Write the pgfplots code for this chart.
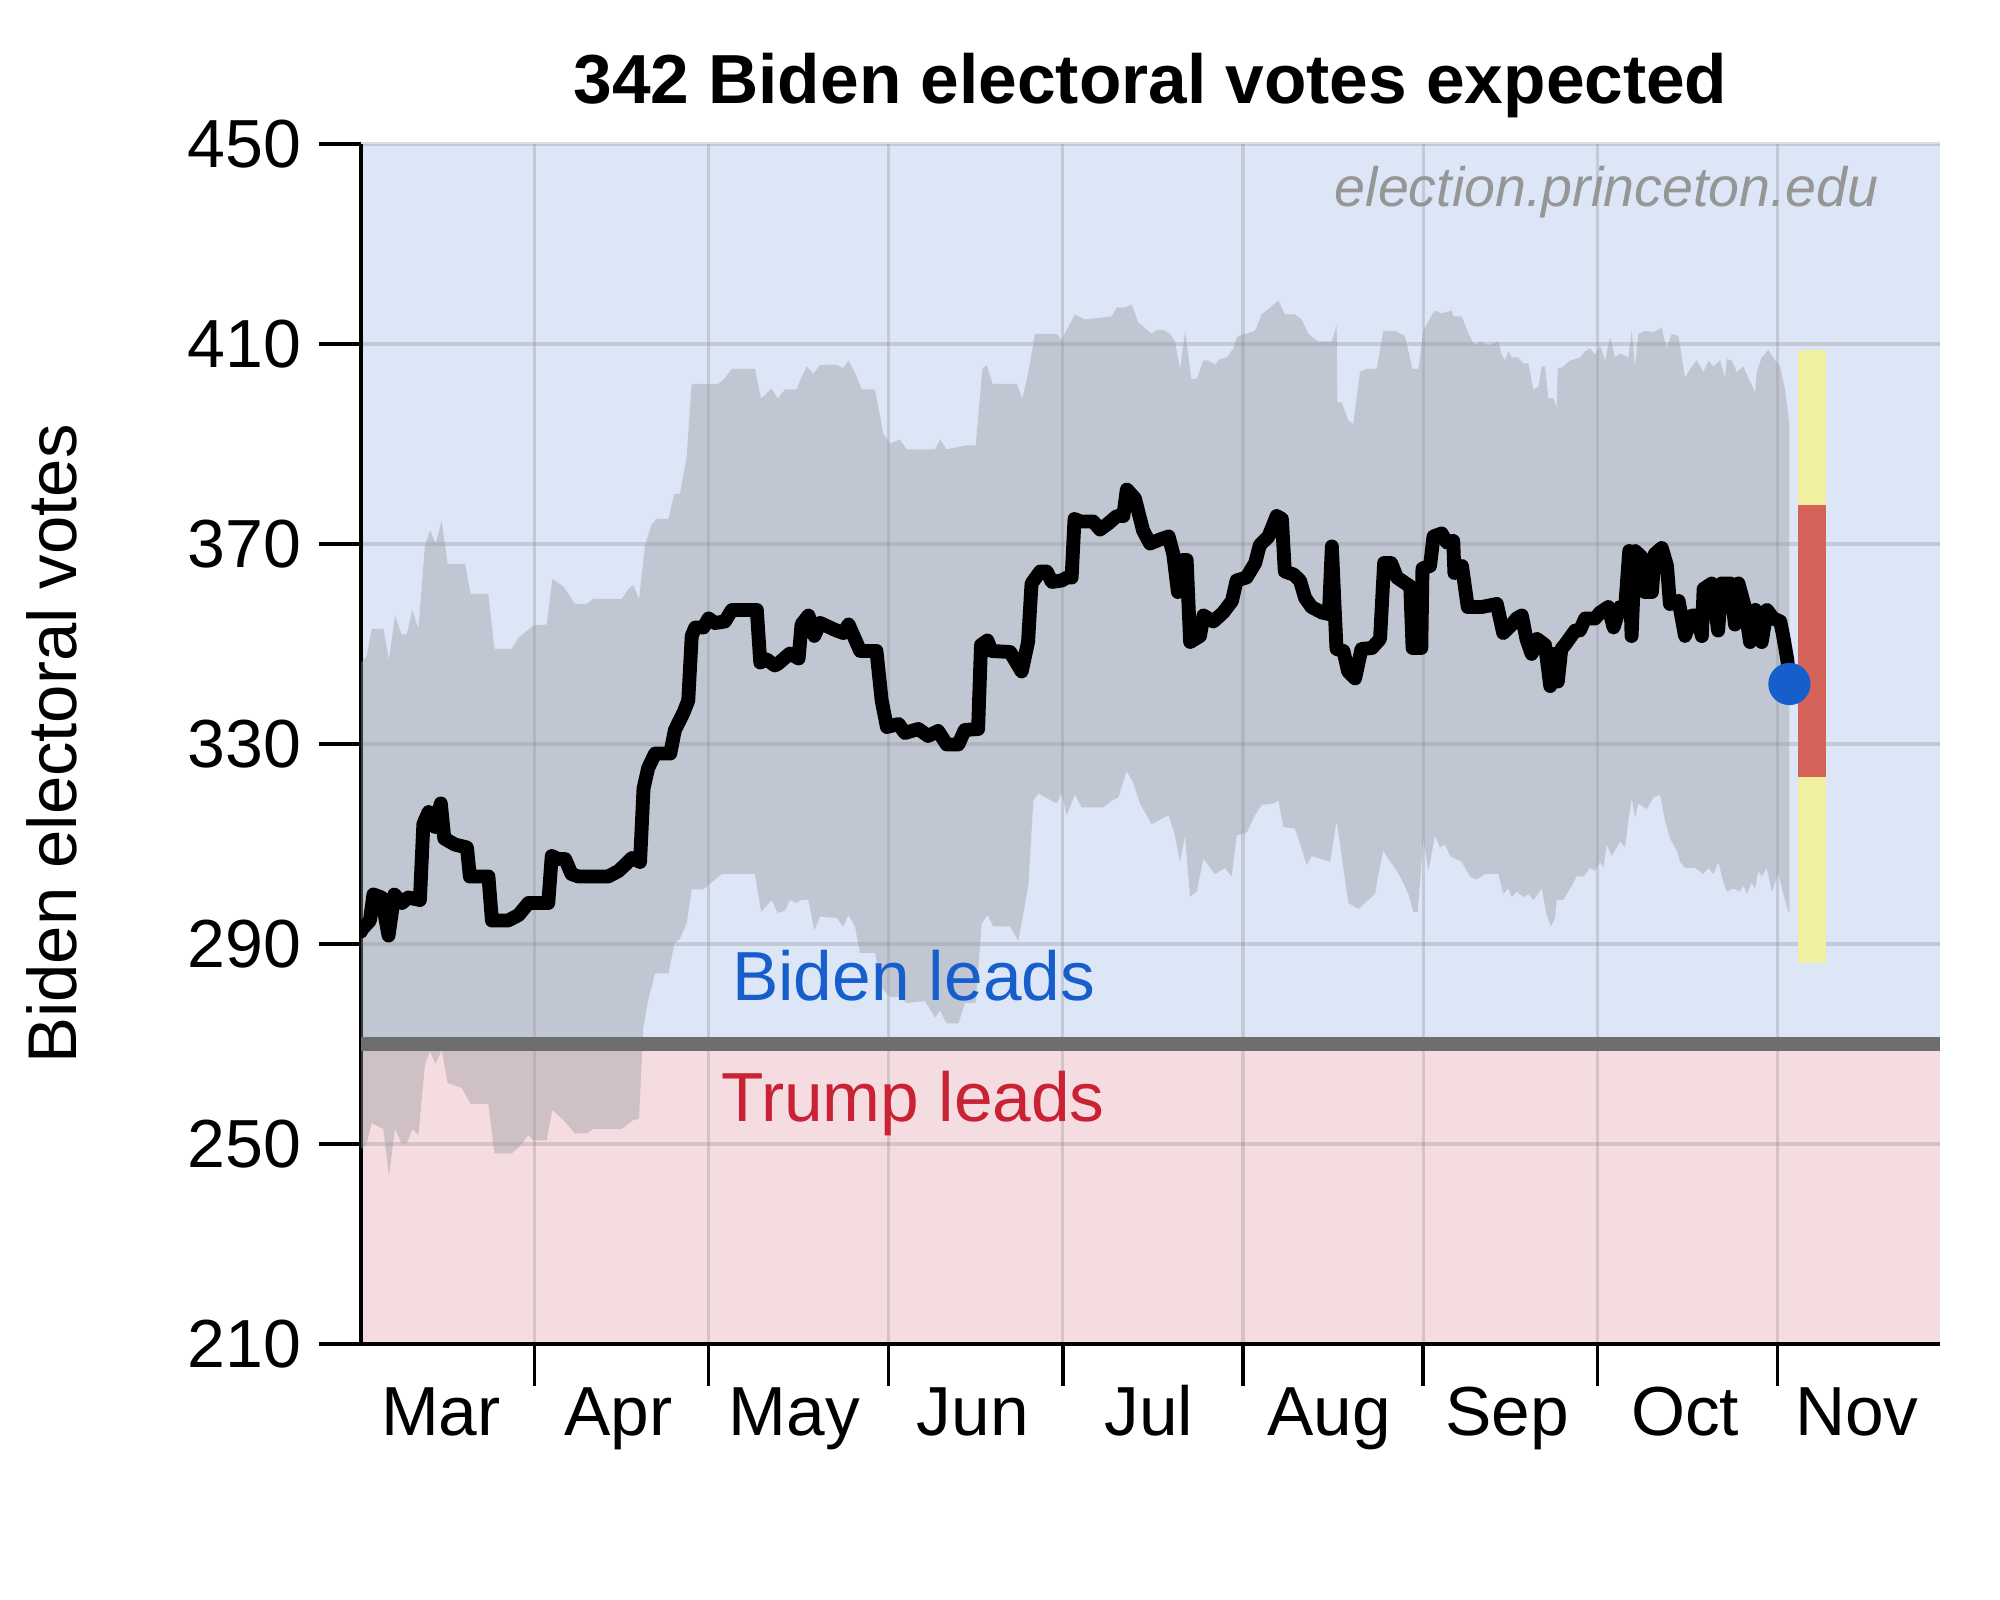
\documentclass[border=0pt]{standalone}
\usepackage{pgfplots}
\pgfplotsset{compat=1.18}
\usepgfplotslibrary{fillbetween}
\usepackage{fontspec}
\setmainfont{Liberation Sans}
\definecolor{bluebg}{RGB}{220,230,246}
\definecolor{pinkbg}{RGB}{245,220,224}
\definecolor{bandcol}{RGB}{152,150,158}
\definecolor{line270}{RGB}{110,110,110}
\definecolor{bidenblue}{RGB}{22,94,204}
\definecolor{trumpred}{RGB}{200,34,52}
\definecolor{baryellow}{RGB}{240,240,160}
\definecolor{barred}{RGB}{212,98,88}
\definecolor{wmgray}{RGB}{150,150,150}
\begin{document}
\begin{tikzpicture}
\begin{axis}[
  set layers,
  scale only axis, width=568.44bp, height=432bp,
  xmin=62.16, xmax=334, ymin=210, ymax=450,
  axis x line*=bottom, axis y line*=left,
  axis line style={line width=1.26bp, black, -},
  tick align=outside, tick pos=left,
  major tick length=15.1bp,
  major tick style={line width=1.26bp, black},
  xtick={92,122,153,183,214,245,275,306},
  xticklabels={},
  ytick={210,250,290,330,370,410,450},
  extra x ticks={75.9,106.5,136.8,167.5,197.8,228.8,259.5,290.1,319.7},
  extra x tick labels={Mar,Apr,May,Jun,Jul,Aug,Sep,Oct,Nov},
  extra x tick style={grid=none, major tick length=0pt, tick style={draw=none},
     tick label style={anchor=base, inner sep=0pt, yshift=-32.76bp, font=\fontsize{25bp}{30bp}\selectfont}},
  /pgf/number format/assume math mode=true,
  tick label style={font=\fontsize{24.5bp}{30bp}\selectfont},
  yticklabel style={anchor=east, inner sep=0pt, xshift=-6.3bp},
  grid=major,
  grid style={line width=1.1bp, gray, opacity=0.27},
  title={\bfseries 342 Biden electoral votes expected},
  title style={font=\fontsize{25bp}{30bp}\selectfont, at={(axis description cs:0.5,1)}, anchor=base, yshift=8.74bp},
  ylabel={Biden electoral votes},
  ylabel style={font=\fontsize{24.8bp}{30bp}\selectfont, at={(axis description cs:-0.1957,0.5)}, anchor=center},
]
% backgrounds
\addplot[on layer=axis background, fill=bluebg, draw=none] coordinates {(62.16,270) (334,270) (334,450) (62.16,450)} -- cycle;
\addplot[on layer=axis background, fill=pinkbg, draw=none] coordinates {(62.16,210) (334,210) (334,270) (62.16,270)} -- cycle;
% band
\addplot[name path=up, draw=none] coordinates {
(62.16,346.3) (63.14,347.5) (64.00,353.0) (66.01,353.0) (66.98,346.9) (68.02,355.7) (69.16,351.9) (70.03,351.9) (71.00,356.8) (72.03,353.0) (73.18,369.8) (74.04,372.7) (75.02,370.1) (76.05,374.7) (77.08,366.0) (80.07,366.0) (81.04,360.0) (84.09,360.0) (85.12,349.0) (88.10,349.0) (89.25,351.2) (91.83,353.7) (94.13,353.9) (95.10,363.0) (97.00,361.5) (99.01,358.0) (101.02,358.0) (102.16,359.0) (107.04,359.0) (108.19,361.0) (109.05,361.8) (110.03,359.0) (111.06,369.8) (112.21,373.9) (113.07,375.0) (115.08,375.0) (116.11,380.0) (117.08,380.0) (118.23,387.4) (119.09,402.0) (123.68,402.0) (124.83,403.2) (125.98,405.0) (130.00,405.0) (131.03,399.1) (132.87,401.1) (133.90,399.1) (135.15,400.9) (137.16,400.9) (138.02,403.4) (138.88,405.5) (140.03,404.0) (141.18,405.8) (144.05,405.8) (145.20,405.2) (146.06,406.7) (147.09,404.6) (148.35,400.9) (150.65,400.9) (152.08,392.1) (153.23,390.1) (154.95,390.9) (156.10,388.9) (160.98,388.9) (161.84,390.9) (162.99,388.9) (166.14,389.7) (167.98,389.7) (169.13,405.0) (169.87,405.8) (170.91,402.0) (175.04,402.0) (176.02,399.1) (177.05,404.4) (178.19,412.0) (181.93,412.0) (182.79,410.8) (183.65,412.8) (185.08,415.9) (186.80,414.9) (191.39,415.5) (192.25,417.3) (193.69,417.3) (194.84,417.9) (195.98,414.3) (197.13,413.2) (198.28,412.0) (199.14,412.8) (200.29,412.8) (201.44,412.0) (202.30,410.5) (203.16,405.0) (204.05,412.6) (205.10,403.0) (206.03,403.0) (207.18,406.7) (208.04,406.7) (209.19,405.9) (210.05,407.0) (211.20,407.3) (212.34,409.1) (212.92,411.4) (214.35,412.0) (216.07,412.6) (217.22,415.9) (220.09,418.7) (221.24,415.9) (222.96,415.9) (224.11,414.9) (225.26,412.0) (226.98,410.5) (229.27,410.5) (230.13,413.8) (230.25,398.3) (230.99,398.3) (232.14,394.7) (233.00,394.0) (234.15,404.4) (235.30,405.0) (237.02,405.0) (238.17,412.6) (240.18,412.6) (241.90,411.6) (243.16,405.0) (244.19,405.0) (245.05,412.6) (246.37,415.5) (247.06,416.7) (248.21,416.1) (249.93,416.7) (250.22,415.5) (251.66,415.5) (253.09,411.4) (253.95,409.7) (254.81,410.5) (256.25,409.7) (257.97,410.5) (258.54,407.9) (259.12,406.7) (259.69,408.5) (260.26,407.3) (261.41,407.3) (262.27,406.1) (263.13,406.1) (263.99,400.9) (264.85,401.4) (265.43,405.5) (266.00,405.5) (266.58,399.1) (267.44,399.1) (268.01,397.3) (268.18,405.0) (269.16,405.5) (270.31,406.7) (272.03,407.3) (272.89,408.5) (273.75,409.1) (274.61,407.9) (275.47,409.7) (276.34,406.7) (277.20,411.4) (278.06,407.3) (278.92,408.1) (280.35,407.3) (280.93,412.6) (281.50,405.5) (282.07,412.0) (283.22,412.6) (284.66,412.4) (286.09,413.2) (286.95,409.1) (287.81,412.0) (288.96,411.6) (290.11,403.2) (290.97,405.0) (292.12,406.7) (293.27,404.4) (294.13,406.7) (294.99,405.5) (296.13,406.7) (296.99,403.2) (297.28,407.0) (298.14,406.7) (299.00,404.4) (300.15,405.5) (301.01,403.2) (302.16,400.3) (302.45,404.4) (303.31,407.3) (304.46,408.8) (305.60,406.7) (306.47,405.5) (307.33,400.9) (308.07,393.8)
};
\addplot[name path=lo, draw=none] coordinates {
(62.16,248.9) (63.14,250.1) (64.00,254.2) (66.01,253.0) (66.98,243.6) (68.02,253.0) (69.16,250.1) (70.03,250.1) (71.00,253.0) (72.03,251.8) (73.18,265.9) (74.04,268.5) (75.02,266.1) (76.05,268.8) (77.08,262.2) (79.49,261.2) (81.04,258.0) (84.09,258.0) (85.12,248.1) (88.10,248.1) (89.25,249.2) (90.97,251.8) (91.83,250.7) (94.13,250.7) (95.10,256.8) (97.00,254.8) (99.01,252.1) (101.02,252.1) (102.16,253.0) (107.04,253.0) (109.05,254.8) (110.03,255.0) (110.77,273.5) (111.63,278.8) (112.78,284.1) (115.08,284.1) (116.11,290.0) (117.08,291.1) (118.23,294.1) (119.09,300.9) (121.10,300.9) (121.85,301.7) (124.26,304.0) (130.00,304.0) (131.03,296.4) (132.87,298.8) (133.90,296.2) (135.15,296.7) (136.01,298.8) (137.16,298.2) (138.02,298.8) (139.17,298.8) (140.20,292.7) (141.18,295.5) (144.05,295.2) (145.20,293.5) (146.06,295.8) (147.21,293.5) (148.07,288.2) (150.65,288.2) (151.80,281.2) (153.23,279.4) (154.95,279.4) (156.10,278.2) (159.26,278.6) (160.98,275.3) (161.84,276.7) (162.99,274.1) (165.00,274.1) (166.14,278.2) (167.98,278.2) (169.01,294.1) (170.05,295.8) (171.02,293.5) (173.89,293.5) (175.33,290.6) (177.05,301.7) (177.91,318.7) (178.77,320.1) (181.93,318.1) (182.79,320.1) (183.65,315.8) (185.08,319.9) (186.23,317.3) (189.96,317.3) (191.39,318.7) (192.54,319.3) (193.98,324.6) (195.13,322.2) (196.27,318.1) (198.28,314.0) (200.29,315.2) (201.15,315.8) (202.30,311.7) (203.16,306.4) (204.02,311.7) (204.88,299.4) (206.03,300.5) (207.18,307.0) (209.19,304.0) (210.91,305.2) (212.06,303.5) (212.92,311.7) (214.64,312.3) (216.07,315.8) (217.22,317.8) (219.23,318.1) (220.09,318.7) (220.95,313.4) (222.96,313.1) (224.97,305.8) (225.83,307.6) (228.99,306.4) (230.13,314.6) (230.99,307.6) (232.14,298.2) (233.86,297.0) (236.73,300.0) (237.31,304.0) (238.17,308.7) (239.03,307.0) (240.18,305.2) (241.32,302.9) (242.47,300.0) (243.33,296.4) (244.08,296.4) (245.05,311.1) (245.92,304.6) (247.06,311.7) (247.92,309.3) (248.78,309.9) (249.65,307.6) (251.66,306.4) (253.09,303.5) (254.24,302.9) (255.67,304.0) (257.97,304.0) (258.83,300.0) (259.69,301.1) (260.26,299.4) (261.13,300.5) (262.27,299.4) (263.13,300.0) (263.99,298.8) (265.43,301.1) (266.29,295.8) (267.03,293.5) (267.72,295.2) (268.01,298.8) (269.16,298.8) (270.31,301.1) (271.46,303.5) (272.61,303.5) (273.75,305.2) (274.61,304.6) (275.47,306.4) (276.05,305.2) (276.62,309.9) (277.48,307.6) (278.34,309.3) (278.92,310.5) (279.78,309.3) (280.35,314.6) (280.93,319.3) (281.50,315.2) (282.07,318.1) (283.51,317.0) (284.66,319.3) (285.81,319.9) (286.67,314.6) (287.53,311.1) (288.68,308.7) (289.25,306.4) (290.11,305.2) (291.83,305.2) (293.27,304.0) (294.13,305.2) (294.99,304.0) (295.85,306.4) (296.71,302.3) (297.28,300.5) (298.43,301.1) (299.58,300.5) (300.15,301.7) (300.73,300.0) (301.59,302.3) (302.16,301.1) (302.74,304.6) (303.31,303.5) (304.17,305.2) (305.03,300.5) (306.18,304.0) (307.04,300.0) (307.90,296.4) (308.07,296.4)
};
\addplot[fill=bandcol, fill opacity=0.4, draw=none] fill between[of=up and lo];
% 270 line
\addplot[line width=4.86bp, color=line270] coordinates {(62.16,270) (334,270)};
% forecast bar
\addplot[line width=9.97bp, color=baryellow] coordinates {(312,286.2) (312,408.8)};
\addplot[line width=9.97bp, color=barred] coordinates {(312,323.3) (312,377.7)};
% median
\addplot[black, line width=5bp, line join=round, line cap=round] coordinates {
(62.16,292.5) (62.3,292.9) (63.7,294.7) (64.3,299.9) (65.7,299.3) (66.9,291.7) (67.9,299.9) (69.2,298.2) (70.3,299.3) (72.3,298.8) (72.9,314.0) (73.8,316.4) (74.9,313.4) (75.9,318.1) (76.5,311.1) (78.3,309.9) (80.4,309.3) (80.9,303.5) (84.1,303.5) (84.7,294.7) (87.5,294.7) (89.3,295.8) (91.0,298.2) (94.4,298.2) (95.0,307.6) (96.1,307.0) (97.3,307.0) (98.4,304.0) (99.6,303.5) (104.7,303.5) (106.5,304.6) (107.6,305.8) (108.8,307.2) (110.2,306.4) (110.8,321.1) (111.6,325.2) (112.8,328.1) (115.4,328.1) (116.2,332.8) (117.7,336.3) (118.5,338.7) (119.1,351.6) (119.7,353.3) (121.1,353.3) (122.0,355.1) (123.1,354.2) (124.8,354.5) (126.0,356.8) (130.3,356.8) (130.9,346.3) (132.0,346.9) (133.4,345.7) (134.0,346.1) (136.0,348.1) (137.5,347.1) (138.0,353.9) (139.2,355.7) (140.2,351.6) (141.2,354.2) (144.0,352.7) (145.2,352.2) (146.1,353.9) (147.2,351.0) (148.1,348.6) (150.9,348.6) (151.8,338.7) (152.7,333.4) (154.7,334.0) (155.8,332.2) (158.1,333.0) (159.8,331.6) (161.5,332.6) (163.0,329.9) (165.0,329.9) (166.1,332.8) (168.4,333.0) (168.9,349.8) (170.0,350.7) (170.7,348.6) (173.9,348.4) (175.9,344.5) (177.0,350.4) (177.6,362.1) (179.1,364.5) (180.2,364.5) (181.1,362.4) (182.8,362.7) (183.7,363.3) (184.5,363.3) (185.0,375.0) (186.0,374.5) (188.2,374.5) (189.4,372.9) (190.8,374.1) (192.3,375.6) (193.4,375.6) (194.0,380.9) (195.4,379.1) (196.8,372.7) (198.0,370.1) (199.7,370.9) (201.2,371.5) (202.0,368.0) (202.8,360.4) (203.7,366.8) (204.3,366.8) (204.9,350.4) (206.6,351.6) (207.2,355.7) (208.9,354.5) (210.6,356.3) (212.1,358.6) (212.9,362.7) (214.6,363.3) (216.1,366.2) (216.9,369.8) (218.4,371.5) (219.8,375.6) (220.7,375.0) (221.2,364.5) (222.7,363.9) (223.8,362.7) (224.7,359.2) (225.8,357.4) (227.6,356.3) (228.8,356.0) (229.3,369.5) (230.1,349.0) (231.3,348.6) (232.1,344.5) (233.3,343.1) (234.4,349.0) (236.2,349.2) (237.6,351.0) (238.3,366.2) (239.5,366.2) (240.5,363.3) (242.8,361.5) (243.2,349.2) (244.7,349.2) (244.9,365.1) (246.2,365.6) (246.8,371.5) (248.2,372.1) (249.1,370.3) (250.2,370.6) (250.4,364.2) (251.7,365.6) (252.7,357.4) (255.1,357.4) (257.7,358.0) (258.8,352.2) (260.3,353.9) (261.1,355.1) (262.0,355.7) (262.8,351.0) (263.7,348.0) (264.6,351.0) (266.0,349.8) (266.9,341.6) (267.5,348.0) (268.2,342.5) (268.8,349.0) (269.4,349.8) (271.2,352.7) (272.0,352.7) (272.9,355.1) (274.6,355.1) (275.5,356.3) (276.9,357.4) (277.8,353.3) (278.9,357.4) (279.8,357.4) (280.5,368.6) (280.9,351.6) (281.5,368.6) (282.6,367.4) (283.2,360.4) (284.4,360.4) (284.9,368.0) (286.1,369.2) (287.0,365.6) (287.5,358.0) (289.0,358.6) (290.1,351.6) (291.3,355.7) (292.1,355.7) (293.0,351.6) (293.3,361.0) (294.7,362.1) (295.8,352.7) (296.4,362.1) (297.9,362.1) (298.7,353.9) (299.3,362.1) (300.4,357.4) (301.3,350.4) (302.2,356.8) (303.3,350.4) (304.2,356.8) (305.3,355.1) (306.5,354.5) (307.0,351.6) (307.7,346.9) (308.1,341.9)
};
% current estimate dot
\addplot[only marks, mark=*, mark size=7.4bp, color=bidenblue] coordinates {(308.07,342)};
% texts
\node[anchor=base, inner sep=0pt, text=bidenblue, font=\fontsize{25bp}{30bp}\selectfont] at (axis cs:157.3,278.6) {Biden leads};
\node[anchor=base, inner sep=0pt, text=trumpred, font=\fontsize{25bp}{30bp}\selectfont] at (axis cs:157.2,254.4) {Trump leads};
\node[anchor=base east, inner sep=0pt, text=wmgray, font=\fontsize{20bp}{24bp}\selectfont\itshape] at (axis cs:323.5,437.4) {election.princeton.edu};
\end{axis}
\path (-129.96bp,-92.16bp) rectangle (590.04bp,483.84bp);
\end{tikzpicture}
\end{document}
